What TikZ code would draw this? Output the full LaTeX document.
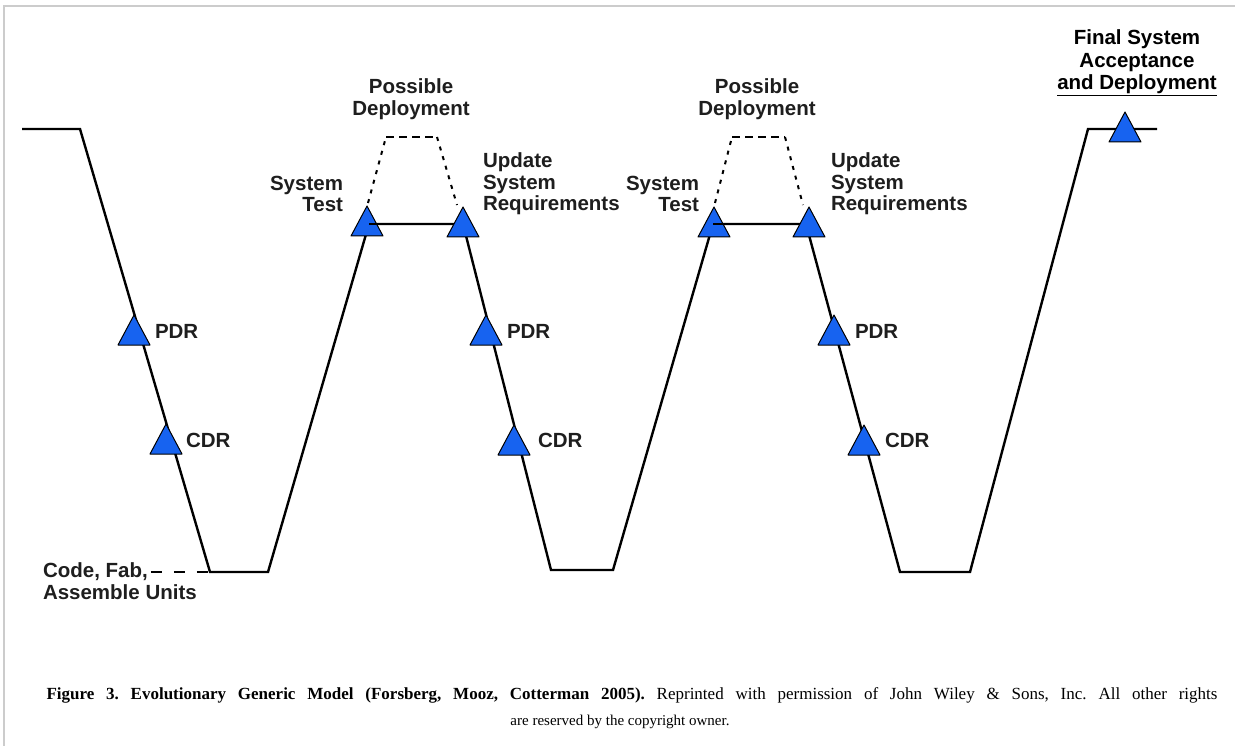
\documentclass[tikz,border=0pt]{standalone}
\usepackage{fontspec}
\setmainfont{Liberation Serif}
\setsansfont{Liberation Sans}
\usetikzlibrary{positioning}
\definecolor{frameline}{HTML}{CCCCCC}
\definecolor{msfill}{HTML}{1763F0}
\definecolor{ink}{HTML}{1E1E1E}
\tikzset{
  vline/.style     = {draw=black, line width=2.4pt, line join=miter},
  dotslope/.style  = {draw=black, line width=2pt, dash pattern=on 4pt off 6pt},
  dashflat/.style  = {draw=black, line width=2pt, dash pattern=on 8pt off 5pt},
  codedash/.style  = {draw=black, line width=2pt, dash pattern=on 11pt off 12pt},
  lbl/.style       = {font=\fontsize{20.5}{21.5}\selectfont\sffamily\bfseries\color{ink}, inner sep=0pt, outer sep=0pt},
  caption/.style   = {font=\fontsize{17}{26}\selectfont\rmfamily\frenchspacing\color{black}, inner sep=0pt},
  milestone/.pic   = {\filldraw[fill=msfill, draw=black, line width=1pt, line join=round] (0,0) -- (-16,30) -- (16,30) -- cycle;},
}

\begin{document}
\begin{tikzpicture}[x=1pt,y=-1pt]
\path[use as bounding box] (0,0) rectangle (1235,746);
\draw[frameline, line width=1.5pt] (4,746) -- (4,6) -- (1235,6);

% ---- the three vees -----------------------------------------------------
\coordinate (start) at (22,129);
\coordinate (top0)  at (80,129);
\coordinate (bot1l) at (210,572);
\coordinate (bot1r) at (268,572);
\coordinate (sys1)  at (369,224);
\coordinate (upd1)  at (463,224);
\coordinate (bot2l) at (551,570);
\coordinate (bot2r) at (613,570);
\coordinate (sys2)  at (713,224);
\coordinate (upd2)  at (806,224);
\coordinate (bot3l) at (900,572);
\coordinate (bot3r) at (970,572);
\coordinate (top3)  at (1088,129);
\coordinate (stop)  at (1157,129);

\draw[vline] (start) -- (top0) -- (bot1l) -- (bot1r) -- (sys1) -- (upd1) -- (bot2l)
  -- (bot2r) -- (sys2) -- (upd2) -- (bot3l) -- (bot3r) -- (top3) -- (stop);

% ---- possible deployment loops ------------------------------------------
\coordinate (pd1a) at (368,203);  \coordinate (pd1b) at (386,137);
\coordinate (pd1c) at (437,137);  \coordinate (pd1d) at (457,205);
\coordinate (pd2a) at (715,203);  \coordinate (pd2b) at (732,137);
\coordinate (pd2c) at (785,137);  \coordinate (pd2d) at (803,205);
\draw[dotslope] (pd1a) -- (pd1b);  \draw[dashflat] (pd1b) -- (pd1c);  \draw[dotslope] (pd1c) -- (pd1d);
\draw[dotslope] (pd2a) -- (pd2b);  \draw[dashflat] (pd2b) -- (pd2c);  \draw[dotslope] (pd2c) -- (pd2d);

% ---- milestones ---------------------------------------------------------
\pic at (134,315) {milestone};
\pic at (166,424) {milestone};
\pic at (486,315) {milestone};
\pic at (514,425) {milestone};
\pic at (834,315) {milestone};
\pic at (864,425) {milestone};
\pic at (367,206) {milestone};
\pic at (714,207) {milestone};
\draw[vline] (sys1) -- (upd1);
\draw[vline] (sys2) -- (upd2);
\pic at (463,207) {milestone};
\pic at (809,207) {milestone};
\pic at (1125,112) {milestone};

% ---- labels -------------------------------------------------------------
\node[lbl, anchor=west] (pdr1) at (155,331) {PDR};
\node[lbl, anchor=west] (cdr1) at (186,440) {CDR};
\node[lbl, anchor=west] (pdr2) at (507,331) {PDR};
\node[lbl, anchor=west] (cdr2) at (538,440) {CDR};
\node[lbl, anchor=west] (pdr3) at (855,331) {PDR};
\node[lbl, anchor=west] (cdr3) at (885,440) {CDR};

\node[lbl, anchor=east, align=right] (systest1) at (343,194) {System\\Test};
\node[lbl, anchor=east, align=right] (systest2) at (699,194) {System\\Test};
\node[lbl, anchor=west, align=left] (update1) at (483,184) {Update\\System\\Requirements};
\node[lbl, anchor=west, align=left] (update2) at (831,184) {Update\\System\\Requirements};
\node[lbl, align=center] (deploy1) at (411,99) {Possible\\Deployment};
\node[lbl, align=center] (deploy2) at (757,99) {Possible\\Deployment};
\node[lbl, align=center, font=\fontsize{20.5}{22.5}\selectfont\sffamily\bfseries] (final) at (1137,63)
  {Final System\\Acceptance\\\underline{and Deployment}};

\node[lbl, anchor=west] (codefab) at (43,572) {Code, Fab,};
\node[lbl, anchor=west] (assemble) at (43,592) {Assemble Units};
\draw[codedash] (codefab.east) ++(3,0) -- (bot1l);

% ---- caption ------------------------------------------------------------
\node[caption, anchor=base] (capa) at (632,699)
  {\makebox[1171pt][s]{\textbf{Figure 3. Evolutionary Generic Model (Forsberg, Mooz, Cotterman 2005).} Reprinted with permission of John Wiley \& Sons, Inc. All other rights}};
\node[caption, anchor=base, font=\fontsize{15}{18}\selectfont\rmfamily] (capb) at (620,725)
  {are reserved by the copyright owner.};

\end{tikzpicture}
\end{document}
